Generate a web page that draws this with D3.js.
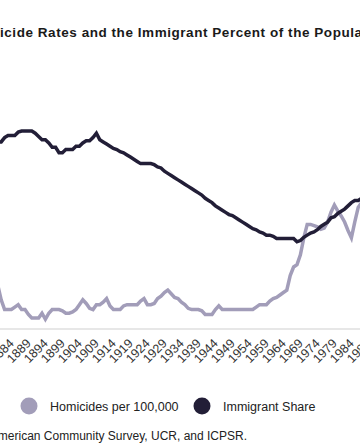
<html>
<head>
<meta charset="utf-8">
<style>
  body { margin: 0; background: #fff; }
  svg { display: block; font-family: "Liberation Sans", Arial, sans-serif; }
</style>
</head>
<body>
<svg width="360" height="447"></svg>

<script src="https://cdn.jsdelivr.net/npm/d3@7/dist/d3.min.js"></script>
<script>
// yearly values (only 1881-1988 is visible)
const years = [
  1881,1882,1883,1884,1885,1886,1887,1888,1889,1890,
  1891,1892,1893,1894,1895,1896,1897,1898,1899,1900,
  1901,1902,1903,1904,1905,1906,1907,1908,1909,1910,
  1911,1912,1913,1914,1915,1916,1917,1918,1919,1920,
  1921,1922,1923,1924,1925,1926,1927,1928,1929,1930,
  1931,1932,1933,1934,1935,1936,1937,1938,1939,1940,
  1941,1942,1943,1944,1945,1946,1947,1948,1949,1950,
  1951,1952,1953,1954,1955,1956,1957,1958,1959,1960,
  1961,1962,1963,1964,1965,1966,1967,1968,1969,1970,
  1971,1972,1973,1974,1975,1976,1977,1978,1979,1980,
  1981,1982,1983,1984,1985,1986,1987,1988
]
const homicides = [
  3.6,2.4,1.6,1.6,1.6,1.8,2.0,1.6,1.6,1.2,
  0.9,0.9,0.9,1.3,0.8,1.3,1.6,1.6,1.6,1.5,
  1.3,1.3,1.4,1.6,2.0,2.4,2.1,1.7,1.6,2.0,
  2.0,2.2,2.5,1.9,1.6,1.6,1.6,1.9,2.0,2.0,
  2.0,2.0,2.3,2.5,2.0,2.0,2.1,2.5,2.7,3.0,
  3.2,2.9,2.6,2.5,2.2,2.0,1.7,1.6,1.6,1.6,
  1.5,1.2,1.2,1.2,1.6,1.9,1.6,1.6,1.6,1.6,
  1.6,1.6,1.6,1.6,1.6,1.6,1.8,2.0,2.0,2.0,
  2.3,2.5,2.6,2.8,3.0,3.2,4.4,5.1,5.3,6.1,
  7.5,8.6,8.6,8.5,8.4,8.2,8.3,8.8,9.6,10.2,
  9.7,9.3,8.8,8.1,7.5,8.8,10.0,10.4
]
const immigrantShare = [
  13.9,13.9,14.3,14.5,14.5,14.5,14.8,14.9,14.9,14.9,
  14.9,14.7,14.4,14.1,14.1,13.8,13.4,13.4,12.9,12.9,
  13.2,13.2,13.2,13.5,13.5,13.8,14.0,14.0,14.3,14.7,
  14.1,13.9,13.7,13.5,13.3,13.2,13.0,12.9,12.7,12.5,
  12.3,12.1,11.9,11.9,11.9,11.9,11.8,11.6,11.5,11.2,
  11.0,10.8,10.6,10.4,10.2,10.0,9.8,9.6,9.4,9.2,
  9.0,8.7,8.5,8.3,8.0,7.8,7.6,7.4,7.2,7.1,
  6.9,6.7,6.5,6.3,6.1,5.9,5.8,5.6,5.5,5.3,
  5.3,5.2,5.0,5.0,5.0,5.0,5.0,5.0,4.7,4.8,
  5.1,5.3,5.5,5.6,5.8,6.1,6.3,6.5,6.9,7.0,
  7.3,7.5,7.7,8.0,8.3,8.5,8.5,8.7
]
const tickYears = [1884,1889,1894,1899,1904,1909,1914,1919,1924,1929,1934,1939,1944,1949,1954,1959,1964,1969,1974,1979,1984,1989,1994]
const seriesNames = ["Homicides per 100,000", "Immigrant Share"]
const seriesColors = ["#a29db9", "#221e37"]

const svg = d3.select("svg")
svg.append("rect").attr("width",360).attr("height",447).attr("fill","#fff")

// the chart is wider than the window, so the scale runs off both sides
const x = d3.scaleLinear().domain([1889, 1989]).range([25, 365])
const yHom = d3.scaleLinear().domain([0, 10]).range([329, 207.4])
const yImm = d3.scaleLinear().domain([0, 15]).range([292.6, 130])

//title
const title = svg.append("text").attr("y",37)
  .attr("font-size","13.5px").attr("font-weight","bold").attr("letter-spacing","0.55px").attr("fill","#1a1a1a")
  .text("Homicide Rates and the Immigrant Percent of the Population")
title.attr("x", -title.node().getSubStringLength(0,3))

//x axis
const axis = svg.append("g").attr("transform","translate(0,329)")
  .call(d3.axisBottom(x).tickValues(tickYears).tickFormat(d3.format("d")).tickSize(0).tickSizeOuter(0))
axis.select(".domain").remove()
axis.append("line").attr("x1",-10).attr("x2",400).attr("stroke","#cfcfcf").attr("stroke-width",1)
axis.selectAll(".tick text")
  .attr("x",0).attr("y",0).attr("dy","0.35em")
  .attr("transform","translate(3,12) rotate(-45)")
  .attr("text-anchor","end").attr("font-size","12.5px")
  .attr("font-family","Liberation Sans, Arial, sans-serif").attr("fill","#333")

//lines
const rows = years.map((yr,i) => ({year: yr, hom: homicides[i], imm: immigrantShare[i]}))

svg.append("path").datum(rows)
  .attr("fill","none").attr("stroke",seriesColors[0]).attr("stroke-width",3.5)
  .attr("d", d3.line().x(d => x(d.year)).y(d => yHom(d.hom)))

svg.append("path").datum(rows)
  .attr("fill","none").attr("stroke",seriesColors[1]).attr("stroke-width",3.5)
  .attr("d", d3.line().x(d => x(d.year)).y(d => yImm(d.imm)))

//legend
const legendX = [29, 202]
seriesNames.forEach(function(name,i) {
  svg.append("circle").attr("cx",legendX[i]).attr("cy",406).attr("r",8.5).attr("fill",seriesColors[i])
  svg.append("text").attr("x",legendX[i]+21).attr("y",410.5)
    .attr("font-size","12.5px").attr("fill","#222").text(name)
})

//source
svg.append("text").attr("x",247).attr("y",440).attr("text-anchor","end")
  .attr("font-size","12px").attr("fill","#222")
  .text("Source: U.S. Census, American Community Survey, UCR, and ICPSR.")
</script>
</body>
</html>
